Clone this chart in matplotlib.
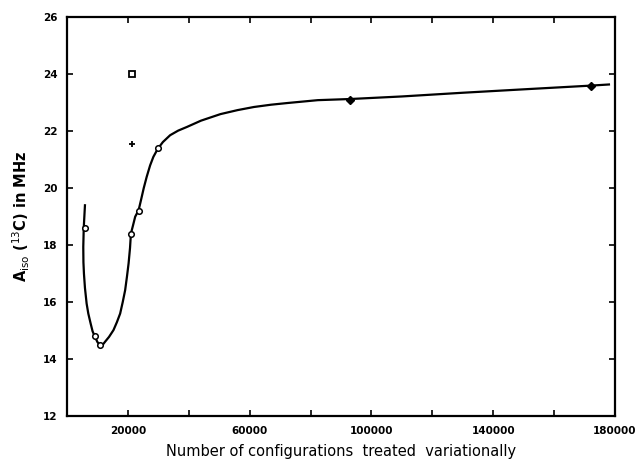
# Запуск: python plot.py
# Зависимость A_iso(13C) от числа конфигураций

import matplotlib.pyplot as plt

# Экспериментальные точки (кружки)
conf_points = [5900, 9100, 10800, 21000, 23600, 29800]
a_points = [18.6, 14.8, 14.5, 18.4, 19.2, 21.4]

# Точки при больших расчётах (залитые)
conf_big = [93000, 172000]
a_big = [23.1, 23.6]

# Отдельные значения: квадрат и крестик
conf_square = [21200]
a_square = [24.0]
conf_plus = [21200]
a_plus = [21.55]

# Плавная кривая
curve_x = [5900, 5700, 5500, 5350, 5400, 5570, 5900, 6450, 7000, 7770, 8400,
           9190, 10000, 10850, 11700, 12500, 13800, 15270, 16400, 17460,
           18300, 19100, 19700, 20230, 20700, 21000, 21700, 22400, 23530,
           24300, 25200, 26180, 27300, 28370, 29800, 31500, 33880, 36500,
           39400, 44000, 50400, 56000, 61400, 67000, 72460, 82370, 93000,
           110000, 130000, 150000, 172000, 178000]
curve_y = [19.40, 19.0, 18.6, 17.94, 17.4, 17.0, 16.5, 15.95, 15.6, 15.25,
           14.98, 14.78, 14.6, 14.49, 14.5, 14.61, 14.78, 15.02, 15.3, 15.6,
           16.0, 16.42, 16.9, 17.36, 17.9, 18.41, 18.7, 19.0, 19.23,
           19.58, 20.0, 20.4, 20.8, 21.1, 21.38, 21.62, 21.86, 22.02,
           22.15, 22.37, 22.6, 22.74, 22.85, 22.93, 22.99, 23.09, 23.13,
           23.22, 23.35, 23.47, 23.6, 23.64]

x_ticks = list(range(0, 180001, 20000))
x_labels = ['', '20000', '', '60000', '', '100000', '', '140000', '', '180000']
y_ticks = [12, 14, 16, 18, 20, 22, 24, 26]


def main():
    fig = plt.figure(figsize=(6.38, 4.66), dpi=100)
    ax = fig.add_axes([0.105, 0.107, 0.859, 0.856])

    # кривая
    ax.plot(curve_x, curve_y, color='black', lw=1.6, zorder=2,
            solid_joinstyle='round')

    # точки
    ax.plot(conf_points, a_points, linestyle='none', marker='o', ms=4,
            mfc='white', mec='black', mew=1.1, zorder=3)
    ax.plot(conf_big, a_big, linestyle='none', marker='D', ms=4,
            color='black', zorder=3)
    ax.plot(conf_square, a_square, linestyle='none', marker='s', ms=5,
            mfc='white', mec='black', mew=1.3, zorder=3)
    ax.plot(conf_plus, a_plus, linestyle='none', marker='+', ms=5,
            color='black', mew=1.3, zorder=3)

    ax.set_xlim(0, 180000)
    ax.set_ylim(12, 26)
    ax.set_xticks(x_ticks)
    ax.set_xticklabels(x_labels, fontsize=7.5, fontweight='bold')
    ax.set_yticks(y_ticks)
    ax.set_yticklabels([str(v) for v in y_ticks], fontsize=7.5, fontweight='bold')
    ax.tick_params(direction='in', length=4, width=1.2, top=True, right=True, pad=7)

    for sp in ax.spines.values():
        sp.set_linewidth(1.6)

    ax.set_xlabel('Number of configurations  treated  variationally',
                  fontsize=10.5, labelpad=6)
    ax.set_ylabel(r'A$_{\rm iso}$ ($^{13}$C) in MHz', fontsize=10.5,
                  fontweight='bold', labelpad=8)

    fig.savefig('out.png', dpi=100)


if __name__ == '__main__':
    main()
